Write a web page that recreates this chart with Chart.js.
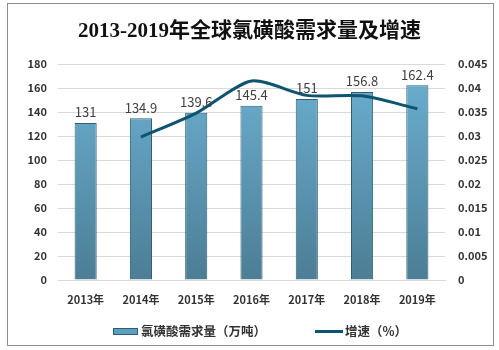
<!DOCTYPE html>
<html>
<head>
<meta charset="utf-8">
<script src="https://cdn.jsdelivr.net/npm/chart.js@4"></script>
<style>
  html, body { margin: 0; padding: 0; background: #fff; }
  #wrap { width: 499px; height: 350px; position: relative; }
</style>
</head>
<body>
<div id="wrap"><canvas id="demandChart"></canvas></div>
<script>
// --- Data ---
const years = ["2013年", "2014年", "2015年", "2016年", "2017年", "2018年", "2019年"];
const demand = [131, 134.9, 139.6, 145.4, 151, 156.8, 162.4];          // 万吨
const growth = [null, 0.0298, 0.0348, 0.0415, 0.0385, 0.0384, 0.0357]; // 增速
const leftTicks = [0, 20, 40, 60, 80, 100, 120, 140, 160, 180];
const rightTicks = [0, 0.005, 0.01, 0.015, 0.02, 0.025, 0.03, 0.035, 0.04, 0.045];

const FONT = "'Noto Sans CJK SC', 'Liberation Sans', sans-serif";
const lineColor = '#0c5470';
const barEdge = '#2f5d73';

// gradient fill for the bars, built once the chart area exists
function barFill(context) {
    const { ctx, chartArea } = context.chart;
    if (!chartArea) return '#5b9bbb';
    const g = ctx.createLinearGradient(0, chartArea.top, 0, chartArea.bottom);
    g.addColorStop(0, '#6cb0d2');
    g.addColorStop(1, '#4c7e95');
    return g;
}

// white background + grey frame around the whole picture
const framePlugin = {
    id: 'frame',
    beforeDraw(chart) {
        const c = chart.ctx;
        c.save();
        c.fillStyle = '#fff';
        c.fillRect(0, 0, chart.width, chart.height);
        c.strokeStyle = '#8c8c8c';
        c.lineWidth = 1;
        c.strokeRect(7.5, 3.5, 486, 342);
        c.restore();
    }
};

// value labels above each bar
const barLabels = {
    id: 'barLabels',
    afterDatasetsDraw(chart) {
        const c = chart.ctx;
        const meta = chart.getDatasetMeta(0);
        c.save();
        c.font = '13px ' + FONT;
        c.fillStyle = '#404040';
        c.textAlign = 'center';
        c.textBaseline = 'bottom';
        meta.data.forEach((bar, i) => {
            c.fillText(String(demand[i]), bar.x, bar.y - 4);
        });
        c.restore();
    }
};

// legend row at the bottom (the built-in one can't space items this wide
// without eating the plot height)
const bottomLegend = {
    id: 'bottomLegend',
    afterDraw(chart) {
        const c = chart.ctx;
        const ds = chart.data.datasets;
        const y = 331;
        c.save();
        c.font = 'bold 12.5px ' + FONT;
        c.fillStyle = '#333';
        c.textBaseline = 'middle';
        c.textAlign = 'left';

        // bar swatch
        c.fillStyle = '#5d9fc0';
        c.fillRect(113, y - 3, 25, 7);
        c.strokeStyle = barEdge;
        c.lineWidth = 1;
        c.strokeRect(113.5, y - 2.5, 24, 6);
        c.fillStyle = '#333';
        c.fillText(ds[0].label, 141, y);

        // line swatch
        c.strokeStyle = lineColor;
        c.lineWidth = 3;
        c.beginPath();
        c.moveTo(315, y + 0.5);
        c.lineTo(343, y + 0.5);
        c.stroke();
        c.fillText(ds[1].label, 345, y);
        c.restore();
    }
};

new Chart(document.getElementById('demandChart'), {
    data: {
        labels: years,
        datasets: [
            {
                type: 'bar',
                label: '氯磺酸需求量（万吨）',
                data: demand,
                yAxisID: 'y',
                backgroundColor: barFill,
                borderColor: barEdge,
                borderWidth: 1,
                barPercentage: 0.8,
                categoryPercentage: 0.5,
                order: 2
            },
            {
                type: 'line',
                label: '增速（%）',
                data: growth,
                yAxisID: 'y1',
                borderColor: lineColor,
                backgroundColor: lineColor,
                borderWidth: 3,
                pointRadius: 0,
                tension: 0.25,
                order: 1
            }
        ]
    },
    options: {
        responsive: true,
        maintainAspectRatio: false,
        animation: false,
        layout: { padding: { left: 0, right: 0, bottom: 40 } },
        plugins: {
            title: {
                display: true,
                text: '2013-2019年全球氯磺酸需求量及增速',
                color: '#111',
                font: { family: "'Liberation Serif', 'Noto Sans CJK SC', serif", size: 21, weight: 'bold' },
                padding: { top: 19, bottom: 20 }
            },
            legend: { display: false },
            tooltip: { enabled: false }
        },
        scales: {
            x: {
                grid: { display: false, drawTicks: false },
                border: { display: true, color: '#d9d9d9' },
                afterFit(axis) { axis.height = 30; },
                ticks: { color: '#333', padding: 13, font: { family: FONT, size: 11, weight: 'bold' } }
            },
            y: {
                position: 'left',
                min: 0,
                max: 180,
                afterBuildTicks(axis) { axis.ticks = leftTicks.map(v => ({ value: v })); },
                afterFit(axis) { axis.width = 58; },
                grid: { color: '#d9d9d9', drawTicks: false },
                border: { display: false },
                ticks: { color: '#333', padding: 11, font: { family: FONT, size: 11, weight: 'bold' } }
            },
            y1: {
                position: 'right',
                min: 0,
                max: 0.045,
                afterBuildTicks(axis) { axis.ticks = rightTicks.map(v => ({ value: v })); },
                afterFit(axis) { axis.width = 54; },
                grid: { display: false, drawTicks: false },
                border: { display: false },
                ticks: {
                    color: '#333',
                    padding: 13,
                    font: { family: FONT, size: 11, weight: 'bold' },
                    callback: v => String(+v.toFixed(3))
                }
            }
        }
    },
    plugins: [framePlugin, barLabels, bottomLegend]
});
</script>
</body>
</html>
